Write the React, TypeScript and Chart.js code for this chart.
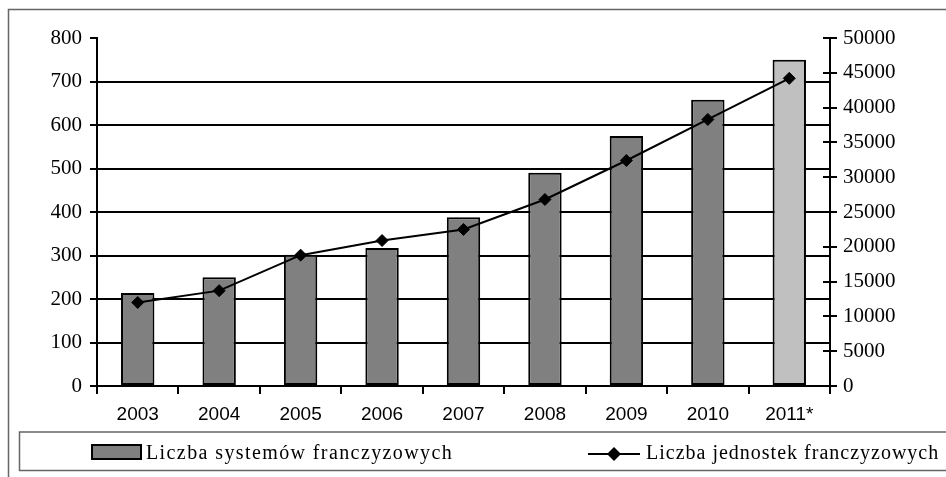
import React, { useEffect, useRef } from "react";
import { Chart, registerables } from "chart.js";

Chart.register(...registerables);

const categories = ["2003", "2004", "2005", "2006", "2007", "2008", "2009", "2010", "2011*"];
const systemsCount = [214, 250, 302, 317, 388, 490, 575, 658, 750];
const unitsCount = [12000, 13700, 18800, 20900, 22500, 26800, 32400, 38300, 44200];
const leftTicksMax = 800;
const leftTicksStep = 100;
const rightTicksMax = 50000;
const rightTicksStep = 5000;
const seriesLabels = ["Liczba systemów franczyzowych", "Liczba jednostek franczyzowych"];

const SERIF = "'Liberation Serif', 'DejaVu Serif', serif";
const SANS = "'Liberation Sans', Arial, sans-serif";

const framePlugin = {
  id: "frame",
  beforeDraw(chart: any) {
    const ctx = chart.ctx;
    ctx.save();
    ctx.strokeStyle = "#666";
    ctx.lineWidth = 1.5;
    ctx.strokeRect(8.5, 9.5, 1000, 600);
    ctx.strokeRect(19.5, 432, 1000, 38.5);
    ctx.restore();
  },
  afterDatasetsDraw(chart: any) {
    const ctx = chart.ctx;
    const s = chart.scales.y1;
    ctx.save();
    ctx.strokeStyle = "#000";
    ctx.lineWidth = 2;
    s.ticks.forEach((t: any) => {
      const y = Math.round(s.getPixelForValue(t.value));
      ctx.beginPath();
      ctx.moveTo(s.left - 7, y);
      ctx.lineTo(s.left, y);
      ctx.stroke();
    });
    ctx.restore();
  },
  afterDraw(chart: any) {
    const ctx = chart.ctx;
    ctx.save();
    ctx.textBaseline = "middle";
    ctx.font = `20px ${SERIF}`;
    ctx.fillStyle = "#808080";
    ctx.fillRect(92, 445, 49, 14);
    ctx.strokeStyle = "#000";
    ctx.lineWidth = 2;
    ctx.strokeRect(92, 445, 49, 14);
    ctx.fillStyle = "#000";
    (ctx as any).letterSpacing = "1.4px";
    ctx.fillText(seriesLabels[0], 146, 454);
    ctx.beginPath();
    ctx.moveTo(588, 454);
    ctx.lineTo(640, 454);
    ctx.stroke();
    ctx.beginPath();
    ctx.moveTo(614, 447);
    ctx.lineTo(621, 454);
    ctx.lineTo(614, 461);
    ctx.lineTo(607, 454);
    ctx.closePath();
    ctx.fill();
    (ctx as any).letterSpacing = "1px";
    ctx.fillText(seriesLabels[1], 646, 454);
    ctx.restore();
  },
};

export default function App() {
  const ref = useRef<HTMLCanvasElement | null>(null);
  useEffect(() => {
    if (!ref.current) return;
    const barColors = categories.map((_, i) => (i === categories.length - 1 ? "#c0c0c0" : "#808080"));
    const chart = new Chart(ref.current, {
      data: {
        labels: categories,
        datasets: [
          {
            type: "line",
            label: seriesLabels[1],
            data: unitsCount,
            yAxisID: "y1",
            borderColor: "#000",
            borderWidth: 2,
            pointStyle: "rectRot",
            pointRadius: 6,
            pointBackgroundColor: "#000",
            pointBorderColor: "#000",
            pointBorderWidth: 1,
            tension: 0,
            order: 0,
          },
          {
            type: "bar",
            label: seriesLabels[0],
            data: systemsCount,
            yAxisID: "y",
            backgroundColor: barColors,
            borderColor: "#000",
            borderWidth: 2,
            borderSkipped: false,
            categoryPercentage: 1,
            barPercentage: 0.41,
            order: 1,
          },
        ],
      } as any,
      options: {
        animation: false,
        responsive: false,
        maintainAspectRatio: false,
        layout: { padding: { left: 0, right: 0, top: 38, bottom: 0 } },
        plugins: { legend: { display: false }, tooltip: { enabled: false } },
        scales: {
          x: {
            offset: true,
            grid: {
              offset: true,
              drawOnChartArea: false,
              drawTicks: true,
              tickLength: 8,
              color: "#000",
              lineWidth: 2,
            },
            border: { display: true, color: "#000", width: 2 },
            ticks: { color: "#000", font: { family: SANS, size: 19 }, padding: 9 },
            afterFit(scale: any) {
              scale.height = 91;
            },
          },
          y: {
            position: "left",
            min: 0,
            max: leftTicksMax,
            ticks: {
              stepSize: leftTicksStep,
              color: "#000",
              font: { family: SERIF, size: 21 },
              padding: 8,
              callback: (v: any) => String(v),
            },
            grid: {
              color: (c: any) => (c.tick && (c.tick.value === leftTicksMax || c.tick.value === 0) ? "rgba(0,0,0,0)" : "#000"),
              tickColor: "#000",
              lineWidth: 2,
              tickWidth: 2,
              tickLength: 7,
            },
            border: { display: true, color: "#000", width: 2 },
            afterFit(scale: any) {
              scale.width = 97;
            },
          },
          y1: {
            position: "right",
            min: 0,
            max: rightTicksMax,
            ticks: {
              stepSize: rightTicksStep,
              color: "#000",
              font: { family: SERIF, size: 21 },
              padding: 6,
              callback: (v: any) => String(v),
            },
            grid: {
              drawOnChartArea: false,
              color: "#000",
              lineWidth: 2,
              tickLength: 7,
            },
            border: { display: true, color: "#000", width: 2 },
            afterFit(scale: any) {
              scale.width = 116;
            },
          },
        },
      } as any,
      plugins: [framePlugin],
    });
    return () => chart.destroy();
  }, []);
  return (
    <div style={{ position: "fixed", left: 0, top: 0, width: 946, height: 477, background: "#fff" }}>
      <canvas ref={ref} width={946} height={477} style={{ width: 946, height: 477, display: "block" }} />
    </div>
  );
}
